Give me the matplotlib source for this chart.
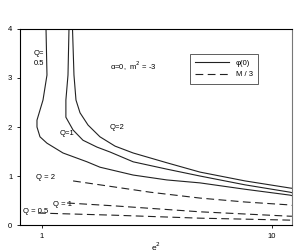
import numpy as np
import matplotlib
matplotlib.use('Agg')
import matplotlib.pyplot as plt
from matplotlib.ticker import FixedLocator, NullLocator

plt.rcParams['font.family'] = ['Liberation Sans', 'DejaVu Sans']
plt.rcParams['font.size'] = 5.5

# solid curves: phi(0)
q05_x = [1.041, 1.051, 1.010, 0.951, 0.951, 0.980, 1.051, 1.234, 1.569, 1.786, 2.49, 3.49, 4.86, 7.63, 11.97, 12.2]
q05_y = [4.0, 3.06, 2.55, 2.14, 2.0, 1.80, 1.67, 1.47, 1.29, 1.18, 1.02, 0.92, 0.86, 0.73, 0.61, 0.60]

q1_x = [1.31, 1.297, 1.27, 1.27, 1.364, 1.507, 1.734, 1.975, 2.49, 3.49, 4.86, 7.63, 11.97, 12.2]
q1_y = [4.0, 3.06, 2.55, 2.20, 1.94, 1.73, 1.59, 1.49, 1.29, 1.14, 1.0, 0.82, 0.67, 0.66]

q2_x = [1.357, 1.377, 1.405, 1.463, 1.585, 1.786, 2.077, 2.49, 3.49, 4.86, 7.63, 11.97, 12.2]
q2_y = [4.0, 3.06, 2.55, 2.29, 2.04, 1.80, 1.61, 1.47, 1.27, 1.08, 0.90, 0.755, 0.75]

# dashed curves: M/3
m2_x = [1.365, 1.786, 2.95, 4.86, 7.63, 11.97, 12.2]
m2_y = [0.90, 0.82, 0.67, 0.55, 0.47, 0.41, 0.40]
m1_x = [1.285, 2.08, 4.86, 11.97, 12.2]
m1_y = [0.45, 0.39, 0.27, 0.18, 0.18]
m05_x = [0.961, 2.08, 4.86, 11.97, 12.2]
m05_y = [0.245, 0.20, 0.14, 0.10, 0.10]

fig = plt.figure(figsize=(3.07, 2.52), dpi=100)
ax = fig.add_axes([0.065, 0.107, 0.886, 0.778])

lc = '#222222'
dash = (0, (7, 4))
ax.plot(q05_x, q05_y, color=lc, lw=0.8, label='φ(0)')
ax.plot(q1_x, q1_y, color=lc, lw=0.8)
ax.plot(q2_x, q2_y, color=lc, lw=0.8)
ax.plot(m2_x, m2_y, color=lc, lw=0.8, ls=dash, label='M / 3')
ax.plot(m1_x, m1_y, color=lc, lw=0.8, ls=dash)
ax.plot(m05_x, m05_y, color=lc, lw=0.8, ls=dash)

ax.set_xscale('log')
ax.set_xlim(0.802, 12.2)
ax.set_ylim(0, 4)
ax.xaxis.set_major_locator(FixedLocator([1, 10]))
ax.xaxis.set_minor_locator(NullLocator())
ax.set_xticklabels(['1', '10'])
ax.set_yticks([0, 1, 2, 3, 4])
ax.tick_params(direction='out', length=2.5, width=0.6, pad=3, labelsize=5.5)
for s in ax.spines.values():
    s.set_linewidth(0.8)
ax.spines['right'].set_color('#777777')

ax.set_xlabel('e$^2$', fontsize=6, labelpad=0.5)

# labels
ax.text(0.05, 0.85, 'Q=\n0.5', transform=ax.transAxes, fontsize=5.5, linespacing=1.6, va='center')
ax.text(0.145, 0.46, 'Q=1', transform=ax.transAxes, fontsize=5.5)
ax.text(0.33, 0.49, 'Q=2', transform=ax.transAxes, fontsize=5.5)
ax.text(0.06, 0.235, 'Q = 2', transform=ax.transAxes, fontsize=5.5)
ax.text(0.12, 0.095, 'Q = 1', transform=ax.transAxes, fontsize=5.5)
ax.text(0.01, 0.06, 'Q = 0.5', transform=ax.transAxes, fontsize=5.5)
ax.text(0.33, 0.79, 'α=0,  m$^2$ = -3', transform=ax.transAxes, fontsize=5.5)

leg = ax.legend(loc='upper left', bbox_to_anchor=(0.61, 0.89), fancybox=False,
                edgecolor='#444444', framealpha=1, handlelength=4.5,
                borderpad=0.7, labelspacing=0.5, fontsize=5.5)
leg.get_frame().set_linewidth(0.6)

fig.savefig('out.png', dpi=100)
